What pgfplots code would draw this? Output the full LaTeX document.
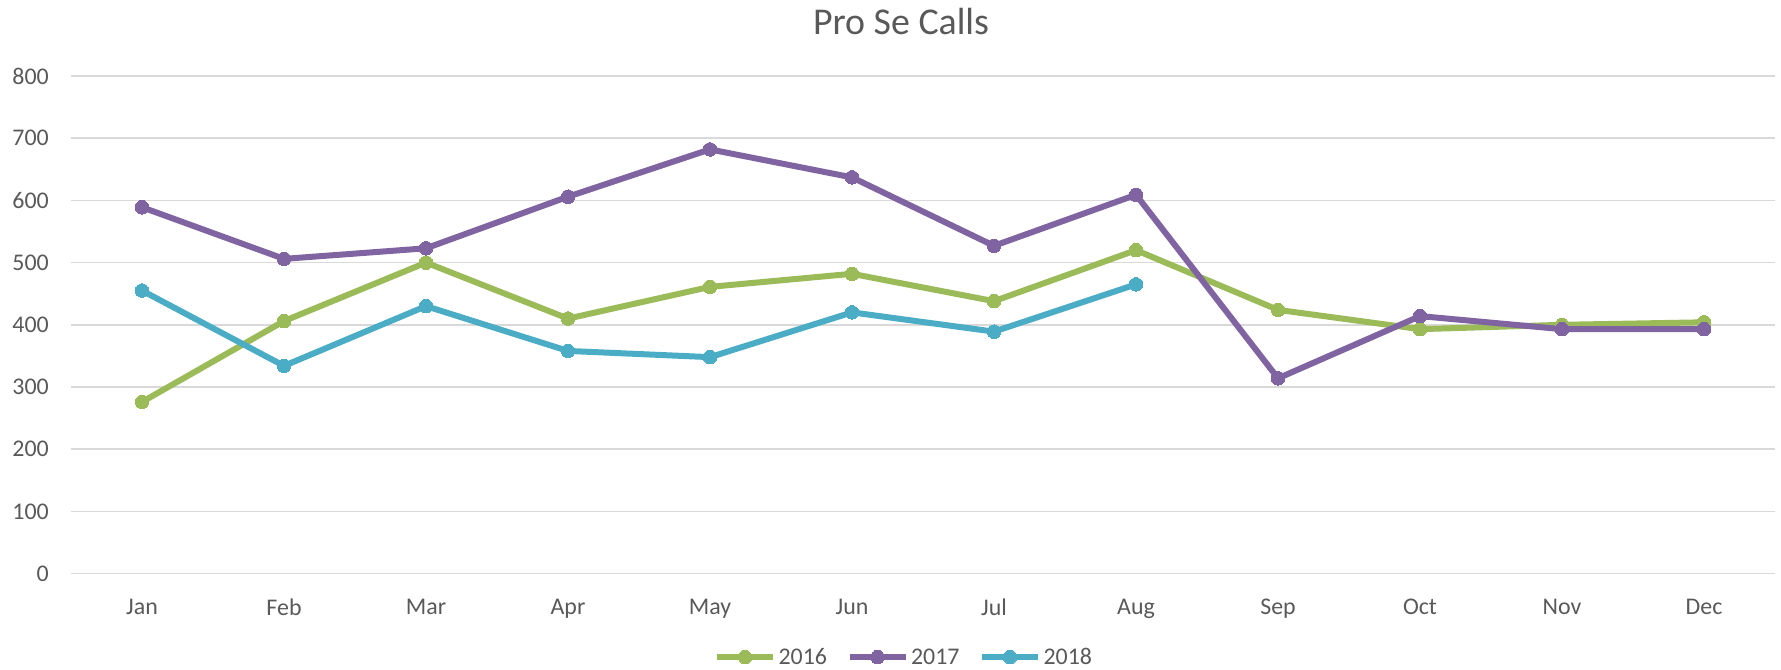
\documentclass[border=0pt]{standalone}
\usepackage{fontspec}
\setmainfont{Carlito}
\usepackage{pgfplots}
\usepackage{pgfplotstable}
\pgfplotsset{compat=1.18}
\definecolor{c16}{HTML}{9BBB59}
\definecolor{c17}{HTML}{8064A2}
\definecolor{c18}{HTML}{4BACC6}
\definecolor{txt}{HTML}{595959}
\definecolor{grd}{HTML}{D9D9D9}
\pgfplotstableread{
x y16 y17
0 276 589
1 406 506
2 500 523
3 410 606
4 461 682
5 482 637
6 438 527
7 520 609
8 424 314
9 393 414
10 400 393
11 404 393
}\dataA
\pgfplotstableread{
x y18
0 455
1 334
2 430
3 358
4 348
5 420
6 389
7 465
}\dataB
\begin{document}
\begin{tikzpicture}[x=1bp,y=1bp]
\useasboundingbox (0,0) rectangle (1781,-670);
\node[anchor=base, font=\fontsize{38}{42}\selectfont, text=txt, inner sep=0pt] at (901,-35) {Pro Se Calls};
\begin{axis}[
  at={(71bp,-573.6bp)}, anchor=south west,
  scale only axis, width=1704bp, height=497.6bp,
  xmin=-0.5, xmax=11.5, ymin=0, ymax=800,
  xtick={0,...,11},
  xticklabels={Jan,Feb,Mar,Apr,May,Jun,Jul,Aug,Sep,Oct,Nov,Dec},
  ytick={0,100,...,800},
  ymajorgrids, grid style={grd, line width=1.6bp},
  axis line style={draw=none}, major tick length=0pt,
  tick label style={font=\fontsize{24}{28}\selectfont, text=txt},
  /pgf/number format/assume math mode=true,
  yticklabel style={anchor=east, inner sep=0pt, xshift=-22bp},
  xticklabel style={anchor=north, inner sep=0pt, yshift=-25bp},
  legend columns=3,
  legend style={at={(0.489,-0.1676)}, anchor=center, draw=none, fill=none,
    font=\fontsize{24}{28}\selectfont, text=txt,
    nodes={inner sep=2.5bp},
    /tikz/every even column/.append style={column sep=17bp}},
  legend image code/.code={\draw[mark repeat=2,mark phase=2,#1] plot coordinates {(0bp,0bp) (28bp,0bp) (56bp,0bp)};},
  every axis plot/.append style={line width=6bp, mark=*, mark size=6.8bp, line join=round},
  clip=false,
]
\addplot[c16, mark options={fill=c16, draw=c16, line width=0pt}] table[x=x, y=y16] {\dataA};
\addlegendentry{2016}
\addplot[c17, mark options={fill=c17, draw=c17, line width=0pt}] table[x=x, y=y17] {\dataA};
\addlegendentry{2017}
\addplot[c18, mark options={fill=c18, draw=c18, line width=0pt}] table[x=x, y=y18] {\dataB};
\addlegendentry{2018}
\end{axis}
\end{tikzpicture}
\end{document}
